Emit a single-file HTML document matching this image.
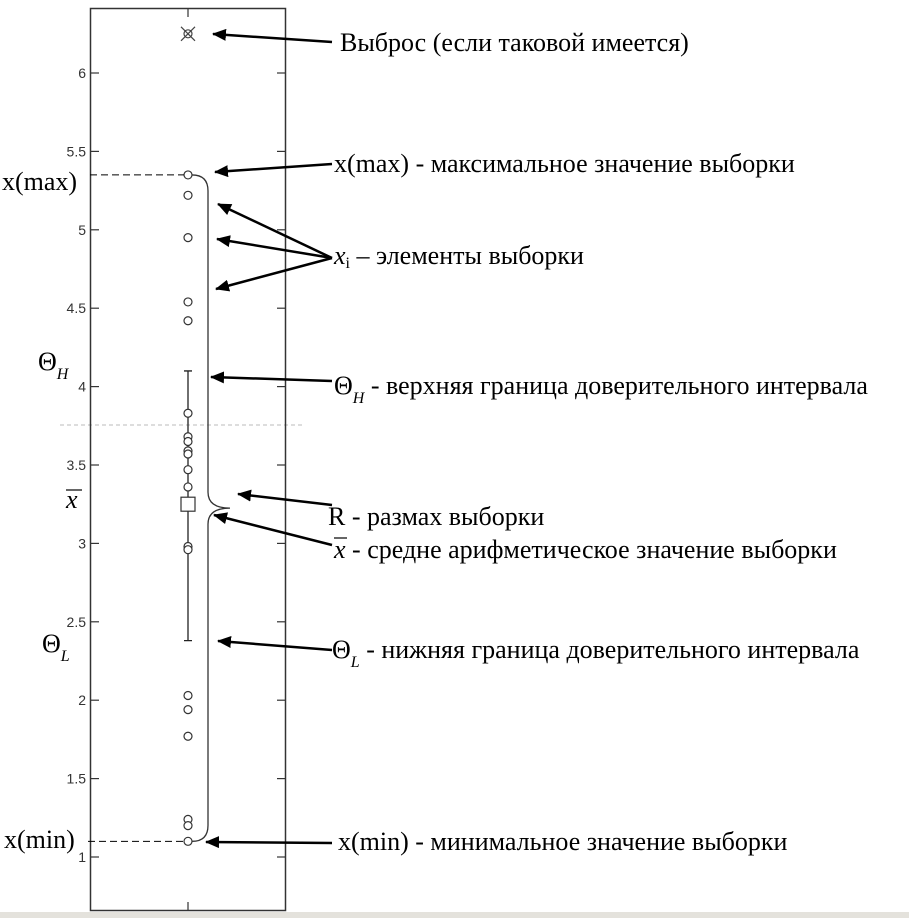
<!DOCTYPE html>
<html><head><meta charset="utf-8"><style>
body{margin:0;background:#fff;}
svg{display:block;font-family:"Liberation Serif",serif;}
</style></head><body>
<svg width="909" height="918" viewBox="0 0 909 918">
<defs><marker id="ah" markerWidth="14" markerHeight="12" refX="13" refY="6" orient="auto" markerUnits="userSpaceOnUse"><path d="M0,0 L14,6 L0,12 Z" fill="#000"/></marker></defs>
<rect x="0" y="912" width="909" height="6" fill="#e4e2dc"/>
<line x1="60" y1="425" x2="305" y2="425" stroke="#bbb" stroke-dasharray="4,3"/>
<rect x="90.5" y="8.5" width="195" height="902" fill="none" stroke="#333" stroke-width="1.5"/>
<g id="axis" font-family="Liberation Sans,sans-serif" font-size="14" fill="#333"></g>
<g id="marks"></g>
<g id="ann" font-size="26" fill="#000"></g>
</svg>
<script>
const tickValues=[1,1.5,2,2.5,3,3.5,4,4.5,5,5.5,6];
const tickLabels=["1","1.5","2","2.5","3","3.5","4","4.5","5","5.5","6"];
const samples=[5.35,5.22,4.95,4.54,4.42,3.83,3.68,3.65,3.59,3.57,3.47,3.36,2.98,2.96,2.03,1.94,1.77,1.24,1.20,1.10];
const outliers=[6.25];
const meanValue=[3.25];
const ciBounds=[2.38,4.10];
const NS="http://www.w3.org/2000/svg";
const y=v=>857-(v-1)*156.8;
const X=188;
function mk(p,t,a){const e=document.createElementNS(NS,t);for(const k in a)e.setAttribute(k,a[k]);p.appendChild(e);return e;}
const ax=document.getElementById('axis'),mg=document.getElementById('marks'),an=document.getElementById('ann');
tickValues.forEach((v,i)=>{
 const l=mk(ax,'line',{x1:91,x2:99,y1:y(v),y2:y(v),stroke:'#333','stroke-width':1.2});
 
 
 const r=mk(ax,'line',{x1:277,x2:285,y1:y(v),y2:y(v),stroke:'#333','stroke-width':1.2});
 
 
 const t=mk(ax,'text',{x:86,y:y(v)+5,'text-anchor':'end'});t.textContent=tickLabels[i];
 
 
});
[[9,17],[902,910]].forEach(a=>{const l=mk(ax,'line',{x1:X,x2:X,y1:a[0],y2:a[1],stroke:'#333','stroke-width':1.2});
 
 });
const ci=mk(mg,'path',{d:`M${X},${y(ciBounds[0])}V${y(ciBounds[1])}M${X-4},${y(ciBounds[0])}h8M${X-4},${y(ciBounds[1])}h8`,stroke:'#222','stroke-width':1.3,fill:'none'});


samples.forEach(v=>{const c=mk(mg,'circle',{cx:X,cy:y(v),r:4,fill:'#fff',stroke:'#333','stroke-width':1.2});
 
 });
meanValue.forEach(v=>{const r=mk(mg,'rect',{x:X-7,y:y(v)-7,width:14,height:14,fill:'#fff',stroke:'#333','stroke-width':1.2});
 
 });
outliers.forEach(v=>{const g=mk(mg,'g',{});
 
 
 mk(g,'circle',{cx:X,cy:y(v),r:4,fill:'none',stroke:'#444','stroke-width':1.2});
 mk(g,'path',{d:`M${X-7},${y(v)-7}l14,14M${X+7},${y(v)-7}l-14,14`,stroke:'#444','stroke-width':1.2});});
const mx=Math.max(...samples),mn=Math.min(...samples);
const ymx=y(mx),ymn=y(mn),ym=(ymx+ymn)/2;
const dash=mk(mg,'path',{d:`M90,${ymx}H${X-4}M88,${ymn}H${X-4}`,stroke:'#000','stroke-dasharray':'7,4','stroke-width':1});


const br=mk(mg,'path',{d:`M${X+4},${ymx} q16,0 16,16 V${ym-16} q0,16 22,16 q-22,0 -22,16 V${ymn-16} q0,16 -16,16`,stroke:'#333','stroke-width':1.3,fill:'none'});


const arrows=[[332,42,213,34],[332,164,215,172],[332,258,218,204],[332,258,217,239],[332,258,216,289],[332,381,211,377],[332,505,238,494],[332,545,214,515],[332,650,218,641],[332,843,206,842]];
arrows.forEach(a=>{const l=mk(an,'line',{x1:a[0],y1:a[1],x2:a[2],y2:a[3],stroke:'#000','stroke-width':2.5,'marker-end':'url(#ah)'});
 
 });
const labs=[[340,51,'Выброс (если таковой имеется)','outlier-label'],[334,172,'x(max) - максимальное значение выборки','xmax-label'],[334,264,'<tspan font-style="italic">x</tspan><tspan font-size="16" dy="4">i</tspan><tspan dy="-4"> – элементы выборки</tspan>','samples-label'],[334,394,'Θ<tspan font-size="16" font-style="italic" dy="9">H</tspan><tspan dy="-9"> - верхняя граница доверительного интервала</tspan>','upper-ci-label'],[328,525,'R - размах выборки','range-label'],[334,558,'<tspan font-style="italic">x</tspan> - средне арифметическое значение выборки','mean-label'],[332,658,'Θ<tspan font-size="16" font-style="italic" dy="9">L</tspan><tspan dy="-9"> - нижняя граница доверительного интервала</tspan>','lower-ci-label'],[338,850,'x(min) - минимальное значение выборки','xmin-label'],
[2,190,'x(max)','xmax-axis-label'],[4,848,'x(min)','xmin-axis-label'],[38,370,'Θ<tspan font-size="16" font-style="italic" dy="9">H</tspan>','theta-h-axis'],[42,652,'Θ<tspan font-size="16" font-style="italic" dy="9">L</tspan>','theta-l-axis'],[66,508,'<tspan font-style="italic">x</tspan>','xbar-axis']];
labs.forEach(l=>{const t=mk(an,'text',{x:l[0],y:l[1]});t.innerHTML=l[2];
 
 });
const ob=mk(an,'line',{x1:66,x2:82,y1:490,y2:490,stroke:'#000','stroke-width':1.2});


const ob2=mk(an,'line',{x1:334,x2:347,y1:538,y2:538,stroke:'#000','stroke-width':1.2});


</script>
</body></html>
